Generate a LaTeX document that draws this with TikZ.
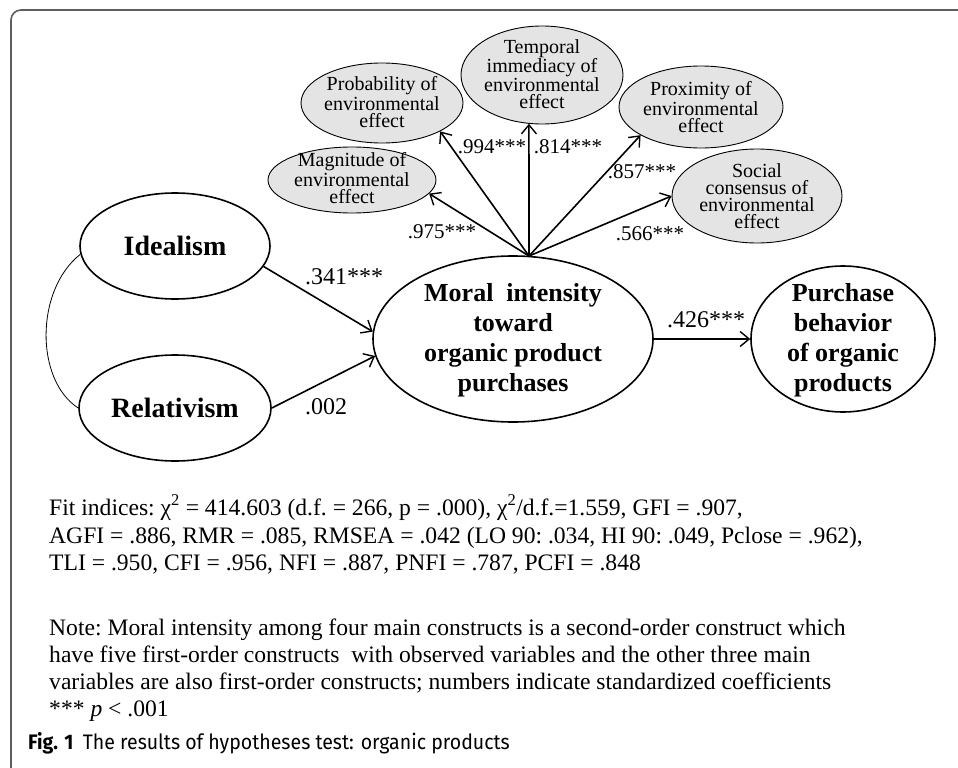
\documentclass[tikz,border=0pt]{standalone}
\usepackage{fontspec}
\setmainfont{Liberation Serif}
\newfontfamily\capfont[FakeStretch=0.93]{Fira Sans}
\usetikzlibrary{shapes.geometric,arrows.meta}
\definecolor{framegray}{HTML}{5E5E5E}
\definecolor{ovalfill}{HTML}{E4E4E4}
\begin{document}
\begin{tikzpicture}[x=1pt,y=-1pt,
  smallshape/.style={ellipse,draw=black,line width=0.9pt,fill=ovalfill,inner sep=0pt},
  smalltext/.style={inner sep=0pt,align=center,font=\fontsize{20}{17}\selectfont},
  bigshape/.style={ellipse,draw=black,line width=1.6pt,inner sep=0pt},
  bigtext/.style={inner sep=0pt,align=center,font=\fontsize{26}{30}\selectfont\bfseries},
  arr/.style={line width=1.6pt,-{Straight Barb[length=9pt,width=15pt,line width=1.4pt]}},
  lab/.style={inner sep=0pt,font=\fontsize{21}{24}\selectfont},
  biglab/.style={inner sep=0pt,font=\fontsize{24}{26}\selectfont},
  body/.style={anchor=base west,inner sep=0pt,font=\fontsize{23.6}{27}\selectfont\frenchspacing}
]
\useasboundingbox (0,0) rectangle (958,768);
\fill[white] (0,0) rectangle (958,768);
% frame
\draw[framegray,line width=1.6pt,rounded corners=10pt] (960,10) -| (11,770);

% big ellipses
\node[bigshape,minimum width=190,minimum height=106] (ideal) at (175,246) {};
\node[bigtext,font=\fontsize{28}{30}\selectfont\bfseries] (idealt) at (ideal) {Idealism};
\node[bigshape,minimum width=192,minimum height=106] (rel) at (175,408) {};
\node[bigtext,font=\fontsize{28}{30}\selectfont\bfseries] (relt) at (rel) {Relativism};
\node[bigshape,minimum width=280,minimum height=166] (moral) at (513,339) {};
\node[bigtext] (moralt) at (513,340) {Moral\ \ intensity\\toward\\organic product\\purchases};
\node[bigshape,minimum width=184,minimum height=146] (purch) at (843,339) {};
\node[bigtext] (purcht) at (843,340) {Purchase\\behavior\\of organic\\products};

% small ellipses
\node[smallshape,minimum width=168,minimum height=66] (mag) at (352,180) {};
\node[smalltext] (magt) at (352,178) {Magnitude of\\environmental\\effect};
\node[smallshape,minimum width=162,minimum height=80] (prob) at (382,103) {};
\node[smalltext] (probt) at (382,102) {Probability of\\environmental\\effect};
\node[smallshape,minimum width=162,minimum height=98] (temp) at (542,75) {};
\node[smalltext] (tempt) at (542,74) {Temporal\\immediacy of\\environmental\\effect};
\node[smallshape,minimum width=164,minimum height=82] (prox) at (701,107) {};
\node[smalltext] (proxt) at (701,107) {Proximity of\\environmental\\effect};
\node[smallshape,minimum width=170,minimum height=94] (soc) at (757,196) {};
\node[smalltext] (soct) at (757,196) {Social\\consensus of\\environmental\\effect};

% connectors
\coordinate (O) at (529,256);
\draw[arr] (O) -- (mag.-10);
\draw[arr] (O) -- (prob.-26.6);
\draw[arr] (O) -- (temp.-105);
\draw[arr] (O) -- (prox.205);
\draw[arr] (O) -- (soc.180);
\draw[arr] (ideal.-13) -- (moral.177);
\draw[arr] (rel.east) -- (moral.187.4);
\draw[arr] (moral.east) -- (purch.west);
\draw[line width=0.8pt] (ideal.185) .. controls (35,290) and (35,380) .. (rel.west);

% labels
\node[biglab] (l341) at (344,277) {.341***};
\node[biglab] (l002) at (326,407) {.002};
\node[biglab] (l426) at (706,320) {.426***};
\node[lab] (l975) at (442,232) {.975***};
\node[lab] (l994) at (492,147) {.994***};
\node[lab] (l814) at (568,147) {.814***};
\node[lab] (l857) at (642,172) {.857***};
\node[lab] (l566) at (650,234) {.566***};

% text
\node[body] (fit1) at (49,515) {Fit indices: χ\textsuperscript{2} = 414.603 (d.f. = 266, p = .000), χ\textsuperscript{2}/d.f.=1.559, GFI = .907,};
\node[body] (fit2) at (49,543) {AGFI = .886, RMR = .085, RMSEA = .042 (LO 90: .034, HI 90: .049, Pclose = .962),};
\node[body] (fit3) at (49,570) {TLI = .950, CFI = .956, NFI = .887, PNFI = .787, PCFI = .848};
\node[body] (note1) at (49,635) {Note: Moral intensity among four main constructs is a second-order construct which};
\node[body] (note2) at (49,662) {have five first-order constructs\ \ with observed variables and the other three main};
\node[body] (note3) at (49,689) {variables are also first-order constructs; numbers indicate standardized coefficients};
\node[body] (note4) at (49,716) {*** \textit{p} < .001};
\node[anchor=base west,inner sep=0pt,font=\capfont\fontsize{21}{24}\selectfont] (cap) at (28,749) {\textbf{Fig. 1}\hspace{0.45em}The results of hypotheses test: organic products};
\end{tikzpicture}
\end{document}
